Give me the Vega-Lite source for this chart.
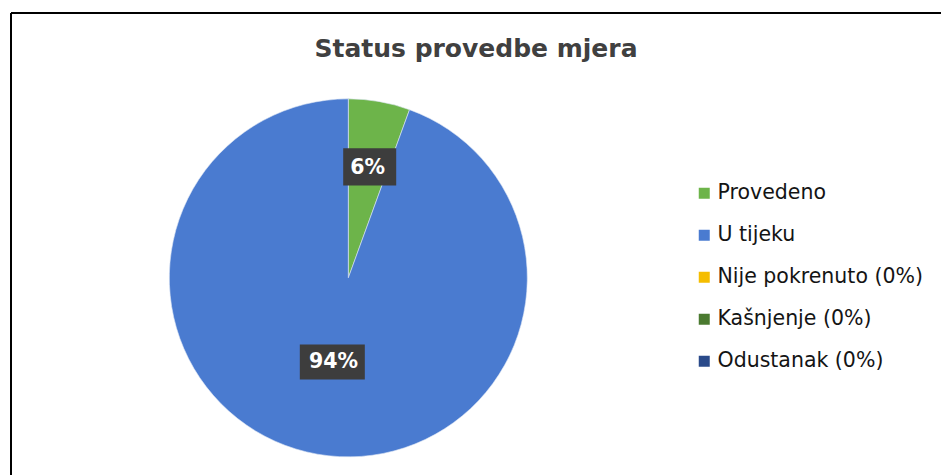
{
  "$schema": "https://vega.github.io/schema/vega-lite/v6.json",
  "width": 942,
  "height": 476,
  "autosize": {"type": "fit", "contains": "padding"},
  "padding": {"left": 10, "top": 12, "right": 0, "bottom": 0},
  "background": "white",
  "title": {
    "text": "Status provedbe mjera",
    "font": "DejaVu Sans",
    "fontSize": 25,
    "fontWeight": "bold",
    "color": "#404040",
    "anchor": "middle",
    "frame": "group",
    "offset": -50
  },
  "config": {"view": {"stroke": null}},
  "data": {
    "values": [
      {"status": "Provedeno", "value": 1, "label": "6%", "ord": 1},
      {"status": "U tijeku", "value": 17, "label": "94%", "ord": 2},
      {"status": "Nije pokrenuto (0%)", "value": 0, "label": "0%", "ord": 3},
      {"status": "Kašnjenje (0%)", "value": 0, "label": "0%", "ord": 4},
      {"status": "Odustanak (0%)", "value": 0, "label": "0%", "ord": 5}
    ]
  },
  "layer": [
    {
      "data": {"values": [{"edge": "left"}]},
      "mark": {"type": "rule", "color": "#000000", "strokeWidth": 2},
      "encoding": {
        "x": {"datum": 0, "type": "quantitative", "scale": {"domain": [0, 1]}, "axis": null}
      }
    },
    {
      "data": {"values": [{"edge": "top"}]},
      "mark": {"type": "rule", "color": "#000000", "strokeWidth": 2},
      "encoding": {
        "y": {"datum": 0, "type": "quantitative", "scale": {"domain": [0, 1], "reverse": true}, "axis": null}
      }
    },
    {
      "transform": [{"filter": "datum.value > 0"}],
      "mark": {"type": "arc", "outerRadius": 179, "stroke": "#dfe8f5", "strokeWidth": 0.6},
      "encoding": {
        "x": {"datum": 0.3627, "type": "quantitative", "scale": {"domain": [0, 1]}, "axis": null},
        "y": {"datum": 0.5733, "type": "quantitative", "scale": {"domain": [0, 1], "reverse": true}, "axis": null},
        "theta": {"field": "value", "type": "quantitative", "stack": true},
        "order": {"field": "ord", "type": "quantitative"},
        "color": {
          "field": "status",
          "type": "nominal",
          "scale": {
            "domain": ["Provedeno", "U tijeku", "Nije pokrenuto (0%)", "Kašnjenje (0%)", "Odustanak (0%)"],
            "range": ["#6db44a", "#4a7bd0", "#f5bd00", "#4b7a30", "#2a4a8a"]
          },
          "legend": {
            "title": null,
            "orient": "none",
            "legendX": 683,
            "legendY": 170,
            "symbolType": "square",
            "symbolSize": 121,
            "symbolStrokeWidth": 0,
            "labelFont": "DejaVu Sans",
            "labelFontSize": 20.5,
            "labelColor": "#141414",
            "labelOffset": 3,
            "labelLimit": 400,
            "rowPadding": 21
          }
        }
      }
    },
    {
      "data": {"values": [{"box": "6%"}]},
      "mark": {"type": "point", "shape": "M-1,-0.7H1V0.7H-1Z", "filled": true, "color": "#3d3d3d", "opacity": 1, "size": 2809},
      "encoding": {
        "x": {"datum": 0.3857, "type": "quantitative", "scale": {"domain": [0, 1]}, "axis": null},
        "y": {"datum": 0.333, "type": "quantitative", "scale": {"domain": [0, 1], "reverse": true}, "axis": null}
      }
    },
    {
      "data": {"values": [{"box": "94%"}]},
      "mark": {"type": "point", "shape": "M-1,-0.54H1V0.54H-1Z", "filled": true, "color": "#3d3d3d", "opacity": 1, "size": 4225},
      "encoding": {
        "x": {"datum": 0.3455, "type": "quantitative", "scale": {"domain": [0, 1]}, "axis": null},
        "y": {"datum": 0.7554, "type": "quantitative", "scale": {"domain": [0, 1], "reverse": true}, "axis": null}
      }
    },
    {
      "transform": [{"filter": "datum.value > 0"}],
      "mark": {"type": "text", "font": "DejaVu Sans", "fontWeight": "bold", "fontSize": 20.5, "color": "#ffffff", "align": "center", "baseline": "middle"},
      "encoding": {
        "x": {"datum": 0.3627, "type": "quantitative", "scale": {"domain": [0, 1]}, "axis": null},
        "y": {"datum": 0.5733, "type": "quantitative", "scale": {"domain": [0, 1], "reverse": true}, "axis": null},
        "theta": {"field": "value", "type": "quantitative", "stack": true},
        "order": {"field": "ord", "type": "quantitative"},
        "radius": {"field": "value", "type": "quantitative", "scale": {"domain": [1, 17], "range": [112, 85.5], "zero": false}},
        "text": {"field": "label", "type": "nominal"}
      }
    }
  ]
}
